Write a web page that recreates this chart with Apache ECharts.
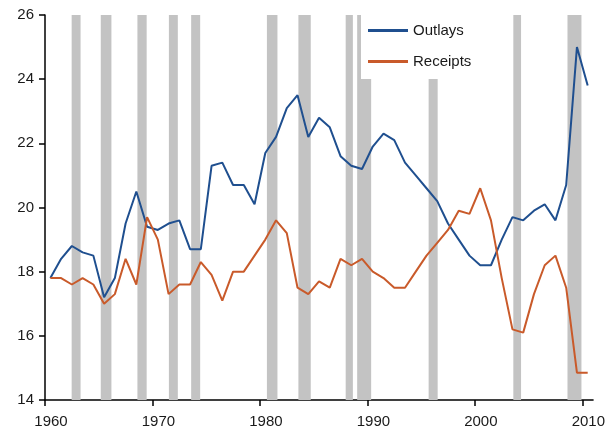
<!DOCTYPE html>
<html>
<head>
<meta charset="utf-8">
<script src="https://cdn.jsdelivr.net/npm/echarts@6/dist/echarts.min.js"></script>
<style>
html,body{margin:0;padding:0;background:#fff;}
#chart{width:608px;height:436px;}
</style>
</head>
<body>
<div id="chart"></div>
<script>
var years = [1960,1961,1962,1963,1964,1965,1966,1967,1968,1969,1970,1971,1972,1973,1974,1975,1976,1977,1978,1979,1980,1981,1982,1983,1984,1985,1986,1987,1988,1989,1990,1991,1992,1993,1994,1995,1996,1997,1998,1999,2000,2001,2002,2003,2004,2005,2006,2007,2008,2009,2010];
var outlays = [17.8,18.4,18.8,18.6,18.5,17.2,17.8,19.5,20.5,19.4,19.3,19.5,19.6,18.7,18.7,21.3,21.4,20.7,20.7,20.1,21.7,22.2,23.1,23.5,22.2,22.8,22.5,21.6,21.3,21.2,21.9,22.3,22.1,21.4,21.0,20.6,20.2,19.5,19.0,18.5,18.2,18.2,19.0,19.7,19.6,19.9,20.1,19.6,20.7,25.0,23.8];
var receipts = [17.8,17.8,17.6,17.8,17.6,17.0,17.3,18.4,17.6,19.7,19.0,17.3,17.6,17.6,18.3,17.9,17.1,18.0,18.0,18.5,19.0,19.6,19.2,17.5,17.3,17.7,17.5,18.4,18.2,18.4,18.0,17.8,17.5,17.5,18.0,18.5,18.9,19.3,19.9,19.8,20.6,19.6,17.8,16.2,16.1,17.3,18.2,18.5,17.5,14.85,14.85];
var bandStarts = [1962.48,1965.19,1968.6,1971.53,1973.6,1980.65,1983.58,1987.98,1989.05,1995.7,2003.58,2008.62];
var bandEnds   = [1963.31,1966.18,1969.46,1972.36,1974.44,1981.63,1984.73,1988.65,1990.35,1996.54,2004.3,2009.92];
var xTicks = [1960,1970,1980,1990,2000,2010];
var yMin = 14, yMax = 26, yStep = 2;

var font = "'Liberation Sans', Arial, sans-serif";
function pts(vals){ return years.map(function(y,i){ return [y+0.5, vals[i]]; }); }
var bands = bandStarts.map(function(s,i){ return [s, bandEnds[i]]; });

var chart = echarts.init(document.getElementById('chart'), null, {renderer:'canvas'});
chart.setOption({
  animation:false,
  backgroundColor:'#fff',
  textStyle:{fontFamily:font},
  grid:{left:45, right:13, top:15, bottom:36, containLabel:false},
  legend:{
    data:['Outlays','Receipts'],
    orient:'vertical',
    left:361, top:15,
    padding:[8,12,10,7],
    icon:'rect',
    itemWidth:40, itemHeight:3, itemGap:16,
    backgroundColor:'#fff',
    textStyle:{fontFamily:font, fontSize:15, lineHeight:14, color:'#1a1a1a'}
  },
  xAxis:{
    type:'value', min:1960, max:2011, interval:10,
    axisLine:{show:true, lineStyle:{color:'#000', width:1.5}},
    axisTick:{show:true, length:6, lineStyle:{color:'#000', width:1.5}, customValues:xTicks},
    axisLabel:{fontFamily:font, fontSize:15, color:'#1a1a1a', margin:14, padding:[0,0,0,12], customValues:xTicks, formatter:function(v){return String(v);}},
    splitLine:{show:false}
  },
  yAxis:{
    type:'value', min:yMin, max:yMax, interval:yStep,
    axisLine:{show:true, lineStyle:{color:'#000', width:1.5}},
    axisTick:{show:true, length:6, lineStyle:{color:'#000', width:1.5}},
    axisLabel:{fontFamily:font, fontSize:15, color:'#1a1a1a', margin:11},
    splitLine:{show:false}
  },
  series:[
    {
      type:'custom', name:'bands', z:1, silent:true,
      data:bands,
      renderItem:function(params, api){
        var p0 = api.coord([api.value(0), yMax]);
        var p1 = api.coord([api.value(1), yMin]);
        return {type:'rect', shape:{x:p0[0], y:p0[1], width:p1[0]-p0[0], height:p1[1]-p0[1]}, style:{fill:'#c3c3c3'}};
      },
      encode:{x:[0,1]}
    },
    {
      type:'line', name:'Outlays', z:3, data:pts(outlays),
      symbol:'none', showSymbol:false,
      lineStyle:{color:'#1f4f8f', width:2}, itemStyle:{color:'#1f4f8f'}
    },
    {
      type:'line', name:'Receipts', z:3, data:pts(receipts),
      symbol:'none', showSymbol:false,
      lineStyle:{color:'#c95a2a', width:2}, itemStyle:{color:'#c95a2a'}
    }
  ]
});
</script>
</body>
</html>
